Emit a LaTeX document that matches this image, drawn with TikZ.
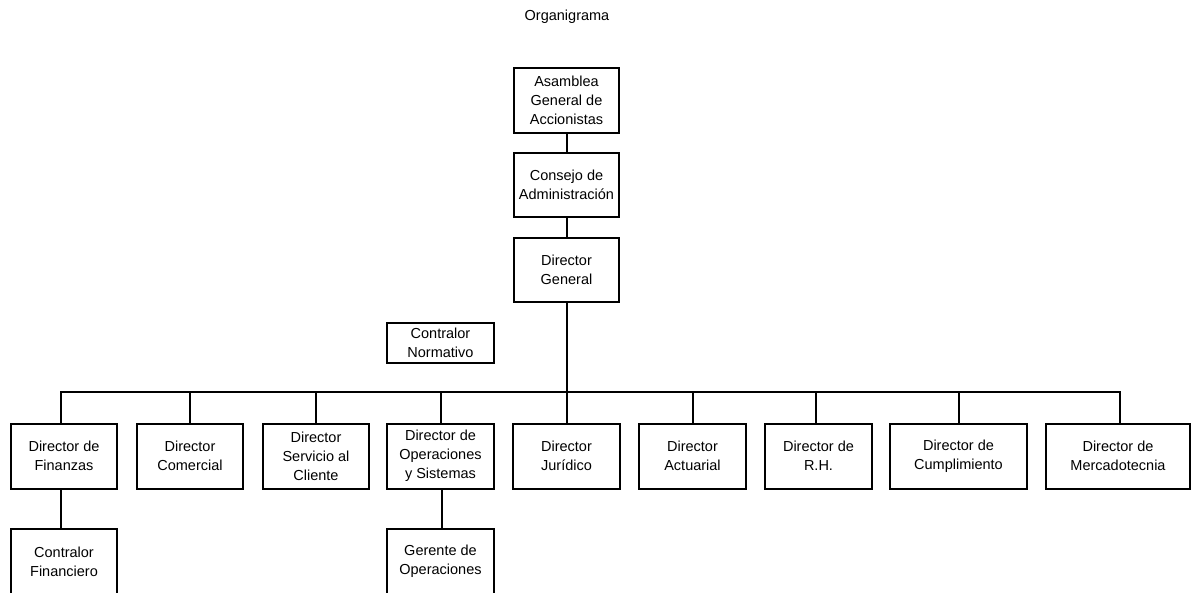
\documentclass[tikz,border=0pt]{standalone}
\usepackage{fontspec}
\setmainfont{Liberation Sans}
\begin{document}
\begin{tikzpicture}[x=1pt,y=-1pt,
  orgbox/.style={draw=black,line width=2pt,rectangle,align=center,inner sep=0pt,
    font=\fontsize{14.5}{19}\selectfont},
  link/.style={draw=black,line width=2pt,line cap=rect}]
\useasboundingbox (0,0) rectangle (1192,592);
\clip (0,0) rectangle (1192,592);
\node[font=\fontsize{14.5}{19}\selectfont] (title) at (567,17) {Organigrama};
\node[orgbox,minimum width=105pt,minimum height=65pt] (asam) at (566.5,100.5) {Asamblea\\General de\\Accionistas};
\node[orgbox,minimum width=105pt,minimum height=64pt] (cons) at (566.5,185) {Consejo de\\Administración};
\node[orgbox,minimum width=105pt,minimum height=64pt] (dg) at (566.5,270) {Director\\General};
\node[orgbox,minimum width=107pt,minimum height=40pt] (cn) at (440.5,343) {Contralor\\Normativo};
\begin{scope}[every node/.append style={minimum height=65pt}]
\node[orgbox,minimum width=106pt] (fin) at (64,456) {Director de\\Finanzas};
\node[orgbox,minimum width=106pt] (com) at (190,456) {Director\\Comercial};
\node[orgbox,minimum width=106pt] (serv) at (316,456) {Director\\Servicio al\\Cliente};
\node[orgbox,minimum width=107pt] (ops) at (440.5,456) {Director de\\Operaciones\\y Sistemas};
\node[orgbox,minimum width=107pt] (jur) at (566.5,456) {Director\\Jurídico};
\node[orgbox,minimum width=107pt] (act) at (692.5,456) {Director\\Actuarial};
\node[orgbox,minimum width=107pt] (rh) at (818.5,456) {Director de\\R.H.};
\node[orgbox,minimum width=137pt] (cum) at (958.5,456) {Director de\\Cumplimiento};
\node[orgbox,minimum width=144pt] (mer) at (1118,456) {Director de\\Mercadotecnia};
\end{scope}
\node[orgbox,minimum width=106pt,minimum height=66pt] (cf) at (64,561.5) {Contralor\\Financiero};
\node[orgbox,minimum width=107pt,minimum height=66pt] (go) at (440.5,561.5) {Gerente de\\Operaciones};
\coordinate (bus) at (0,392);
\draw[link] (asam) -- (cons);
\draw[link] (cons) -- (dg);
\draw[link] (dg.south) -- (dg.south |- bus);
\draw[link] ([xshift=-3pt]fin.north |- bus) -- ([xshift=2pt]mer.north |- bus);
\draw[link] ([xshift=-3pt]fin.north) -- ([xshift=-3pt]fin.north |- bus);
\draw[link] (com.north) -- (com.north |- bus);
\draw[link] (serv.north) -- (serv.north |- bus);
\draw[link] (ops.north) -- (ops.north |- bus);
\draw[link] (jur.north) -- (jur.north |- bus);
\draw[link] (act.north) -- (act.north |- bus);
\draw[link] ([xshift=-3pt]rh.north) -- ([xshift=-3pt]rh.north |- bus);
\draw[link] (cum.north) -- (cum.north |- bus);
\draw[link] ([xshift=2pt]mer.north) -- ([xshift=2pt]mer.north |- bus);
\draw[link] ([xshift=-3pt]fin.south) -- ([xshift=-3pt]fin.south |- cf.north);
\draw[link] ([xshift=1pt]ops.south) -- ([xshift=1pt]ops.south |- go.north);
\end{tikzpicture}
\end{document}
